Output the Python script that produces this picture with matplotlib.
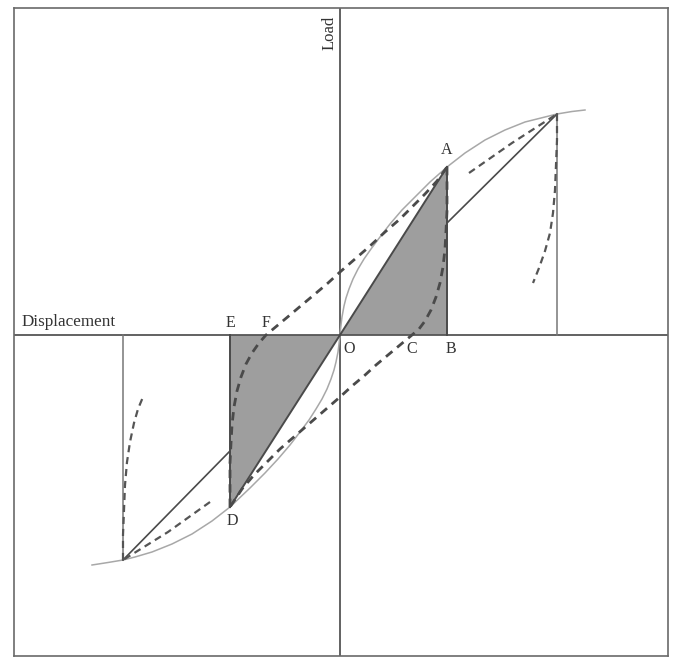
import numpy as np
import matplotlib
matplotlib.use("Agg")
import matplotlib.pyplot as plt

# Hysteresis schematic: load vs displacement (units are arbitrary)
# backbone / envelope curve
env_right_x = [0, 1, 2, 4, 6, 9, 13, 18, 24, 31, 40, 50, 62, 75, 90, 107,
               125, 145, 165, 185, 205, 217, 232, 245]
env_right_y = [0, 10, 18, 29, 37, 46, 56, 66, 76, 86, 98, 111, 125, 138, 153, 168,
               182, 195, 205, 213, 218, 221, 223.5, 225]
env_left_x = [0, -1, -2, -4, -6, -9, -13, -18, -24, -31, -40, -50, -62, -75, -90, -110,
              -128, -148, -168, -188, -205, -217, -232, -248]
env_left_y = [0, -9, -17, -27, -35, -44, -54, -64, -74, -85, -97, -110, -124, -138, -153, -172,
              -186, -199, -209, -217, -222, -225, -227.5, -230]

# key points of the loop
A = (107, 168)
D = (-110, -172)
B_x = 107
E_x = -110
peak_pos = (217, 221)
peak_neg = (-217, -225)

# dashed loop branch going up (D -> F -> A)
up_x = [-110, -110, -110, -109, -108, -106, -103, -99, -94, -88, -81, -74, -62, -50,
        -37, -25, -12, 0, 15, 30, 45, 60, 73, 85, 97, 107]
up_y = [-172, -150, -128, -108, -90, -72, -56, -42, -29, -18, -8, 0, 10, 20,
        31, 41, 52, 63, 76, 89, 103, 116, 129, 141, 154, 168]
# dashed loop branch going down (A -> C -> D)
down_x = [107, 107, 107, 106, 105, 103, 100, 96, 91, 85, 79, 72, 60, 48,
          36, 24, 12, 0, -15, -30, -45, -60, -73, -86, -98, -110]
down_y = [168, 146, 124, 104, 86, 68, 52, 38, 25, 14, 6, 0, -10, -20,
          -30, -41, -51, -62, -75, -88, -101, -114, -127, -140, -154, -172]

# outer cycles
reload_pos_x = [129, 172, 217]
reload_pos_y = [162, 192, 221]
unload_pos_x = [217, 217, 216, 215, 213, 210, 205, 199, 193]
unload_pos_y = [221, 195, 170, 145, 122, 102, 84, 67, 52]
reload_neg_x = [-130, -172, -217]
reload_neg_y = [-167, -197, -225]
unload_neg_x = [-217, -217, -216, -215, -213, -210, -206, -202, -197]
unload_neg_y = [-225, -200, -175, -150, -127, -107, -88, -74, -62]
secant_pos = ([108, 217], [113, 221])
secant_neg = ([-111, -217], [-117, -225])

point_labels = ['A', 'B', 'C', 'D', 'E', 'F', 'O']
label_x = [107, 111, 72, -108, -110, -74, 9]
label_y = [185, -14, -14, -186, 12, 12, -14]

fig = plt.figure(figsize=(6.74, 6.59), dpi=100)
ax = fig.add_axes([14 / 674, 3 / 659, 654 / 674, 648 / 659])
ax.set_xlim(-326, 328)
ax.set_ylim(-321, 327)
ax.set_xticks([])
ax.set_yticks([])
for s in ax.spines.values():
    s.set_color('#6a6a6a')
    s.set_linewidth(1.2)

ink = '#4a4a4a'
fill_c = '#9e9e9e'

# shaded triangles
ax.fill([0, A[0], B_x], [0, A[1], 0], color=fill_c, lw=0, zorder=1)
ax.fill([0, E_x, D[0]], [0, 0, D[1]], color=fill_c, lw=0, zorder=1)

# axes lines
ax.axhline(0, color='#555555', lw=1.3, zorder=2)
ax.axvline(0, color='#555555', lw=1.3, zorder=2)

# envelope
ax.plot(env_right_x, env_right_y, color='#a8a8a8', lw=1.1, zorder=3)
ax.plot(env_left_x, env_left_y, color='#a8a8a8', lw=1.1, zorder=3)

# solid lines
ax.plot([0, A[0]], [0, A[1]], color=ink, lw=1.4, zorder=4)
ax.plot([0, D[0]], [0, D[1]], color=ink, lw=1.4, zorder=4)
ax.plot([B_x, B_x], [0, A[1]], color=ink, lw=1.4, zorder=4)
ax.plot([E_x, E_x], [0, D[1]], color=ink, lw=1.4, zorder=4)
ax.plot(*secant_pos, color=ink, lw=1.2, zorder=4)
ax.plot(*secant_neg, color=ink, lw=1.2, zorder=4)
ax.plot([peak_pos[0]] * 2, [0, peak_pos[1]], color='#777777', lw=1.1, zorder=3)
ax.plot([peak_neg[0]] * 2, [0, peak_neg[1]], color='#777777', lw=1.1, zorder=3)

# dashed curves
dash = dict(color=ink, lw=2.0, ls=(0, (3.0, 2.2)), zorder=5)
ax.plot(up_x, up_y, **dash)
ax.plot(down_x, down_y, **dash)
thin_dash = dict(color='#555555', lw=1.6, ls=(0, (3.2, 2.2)), zorder=5)
ax.plot(reload_pos_x, reload_pos_y, **thin_dash)
ax.plot(unload_pos_x, unload_pos_y, **thin_dash)
ax.plot(reload_neg_x, reload_neg_y, **thin_dash)
ax.plot(unload_neg_x, unload_neg_y, **thin_dash)

# text
serif = 'Liberation Serif'
for t, x, y in zip(point_labels, label_x, label_y):
    ax.text(x, y, t, family=serif, fontsize=11.5, color='#333333',
            ha='center', va='center', zorder=6)
ax.text(-318, 5, 'Displacement', family=serif, fontsize=12.3, color='#333333',
        ha='left', va='bottom')
ax.text(-10, 302, 'Load', family=serif, fontsize=12, color='#333333',
        rotation=90, ha='center', va='center')

fig.savefig('out.png', dpi=100)
